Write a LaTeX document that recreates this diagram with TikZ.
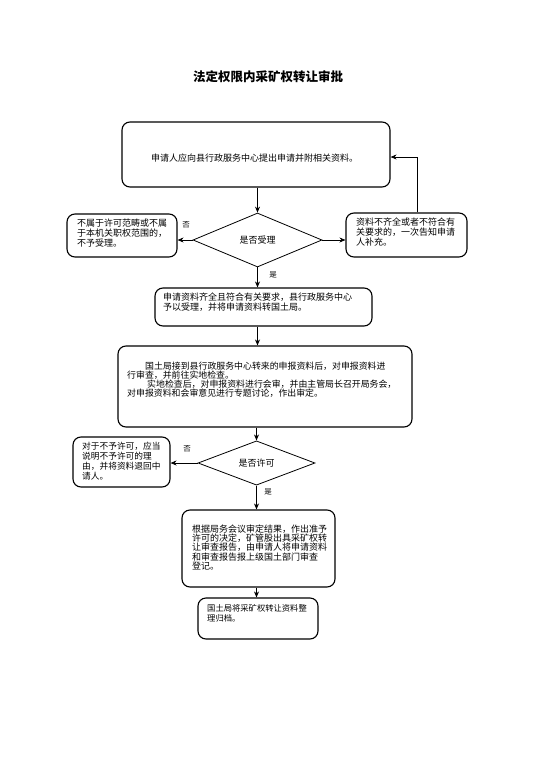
\documentclass[tikz,border=0pt]{standalone}
\usepackage{fontspec}
\newfontfamily\cjk{Noto Sans CJK SC}
\usetikzlibrary{shapes.geometric,arrows.meta}
\tikzset{
  box/.style={draw, rounded corners=8pt, line width=1.1pt, inner sep=0pt},
  dia/.style={draw, diamond, line width=0.8pt, inner sep=0pt, font=\cjk\fontsize{9}{10}\selectfont},
  txt/.style={font=\cjk\fontsize{9}{10}\selectfont, align=left, anchor=north west, inner sep=0pt},
  lbl/.style={font=\cjk\fontsize{7.5}{8}\selectfont, inner sep=0pt},
  arr/.style={-{Stealth[length=6pt,width=5pt]}, line width=0.8pt},
}
\begin{document}
\begin{tikzpicture}[x=1pt,y=-1pt]
\useasboundingbox (0,0) rectangle (542,768);
\fill[white] (0,0) rectangle (542,768);

\node[font=\cjk\bfseries\fontsize{12.5}{14}\selectfont, inner sep=0pt] (title) at (268,77) {法定权限内采矿权转让审批};

% boxes
\node[box, minimum width=268pt, minimum height=65pt] (b1) at (256,154.5) {};
\node[font=\cjk\fontsize{9}{10}\selectfont, inner sep=0pt] (t1) at (254.5,158) {申请人应向县行政服务中心提出申请并附相关资料。};

\node[dia, minimum width=129pt, minimum height=54pt] (d1) at (257.5,240) {是否受理};

\node[box, minimum width=110pt, minimum height=43pt] (n1) at (122,235.5) {};
\node[txt] (tn1) at (77,218.5) {不属于许可范畴或不属\\于本机关职权范围的，\\不予受理。};

\node[box, minimum width=121pt, minimum height=44pt] (n2) at (406.5,235) {};
\node[txt] (tn2) at (356,217.5) {资料不齐全或者不符合有\\关要求的，一次告知申请\\人补充。};

\node[box, minimum width=217pt, minimum height=38pt] (b3) at (263.5,307) {};
\node[txt] (t3) at (163,292.5) {申请资料齐全且符合有关要求，县行政服务中心\\予以受理，并将申请资料转国土局。};

\node[box, minimum width=294pt, minimum height=81pt] (b4) at (265,386.5) {};
\node[txt, font=\cjk\fontsize{8.9}{9.2}\selectfont] (t4) at (127,361.5) {\hspace*{18pt}国土局接到县行政服务中心转来的申报资料后，对申报资料进\\行审查，并前往实地检查。\\\hspace*{20pt}实地检查后，对申报资料进行会审，并由主管局长召开局务会，\\对申报资料和会审意见进行专题讨论，作出审定。};

\node[dia, minimum width=117pt, minimum height=40pt] (d2) at (256.5,463) {是否许可};

\node[box, minimum width=97pt, minimum height=50pt] (n3) at (121.5,462) {};
\node[txt, font=\cjk\fontsize{8.7}{10}\selectfont] (tn3) at (82,441.5) {对于不予许可，应当\\说明不予许可的理\\由，并将资料退回中\\请人。};

\node[box, minimum width=153pt, minimum height=77pt] (b5) at (258.5,548.5) {};
\node[txt, font=\cjk\fontsize{9}{9.3}\selectfont] (t5) at (192,524.5) {根据局务会议审定结果，作出准予\\许可的决定，矿管股出具采矿权转\\让审查报告，由申请人将申请资料\\和审查报告报上级国土部门审查\\登记。};

\node[box, minimum width=120pt, minimum height=41pt] (b6) at (258,618.5) {};
\node[txt, font=\cjk\fontsize{8.3}{10}\selectfont] (t6) at (207,604.5) {国土局将采矿权转让资料整\\理归档。};

% labels
\node[lbl] (no1) at (186,225) {否};
\node[lbl] (yes1) at (273,275) {是};
\node[lbl] (no2) at (187,449) {否};
\node[lbl] (yes2) at (268,492) {是};

% connectors
\draw[arr] (b1.south -| d1.north) -- (d1.north);
\draw[arr] (d1.west) -- (d1.west -| n1.east);
\draw[arr] (d1.east) -- (d1.east -| n2.west);
\coordinate (c1) at (417,157);
\draw[arr] (n2.north -| c1) -- (c1) -- (c1 -| b1.east);
\draw[arr] (d1.south) -- (d1.south |- b3.north);
\draw[arr] (b3.south -| d1.south) -- (b4.north -| d1.south);
\draw[arr] (b4.south -| d2.north) -- (d2.north);
\draw[arr] (d2.west) -- (d2.west -| n3.east);
\draw[arr] (d2.south) -- (d2.south |- b5.north);
\draw[arr] (b5.south -| d2.south) -- (b6.north -| d2.south);
\end{tikzpicture}
\end{document}
